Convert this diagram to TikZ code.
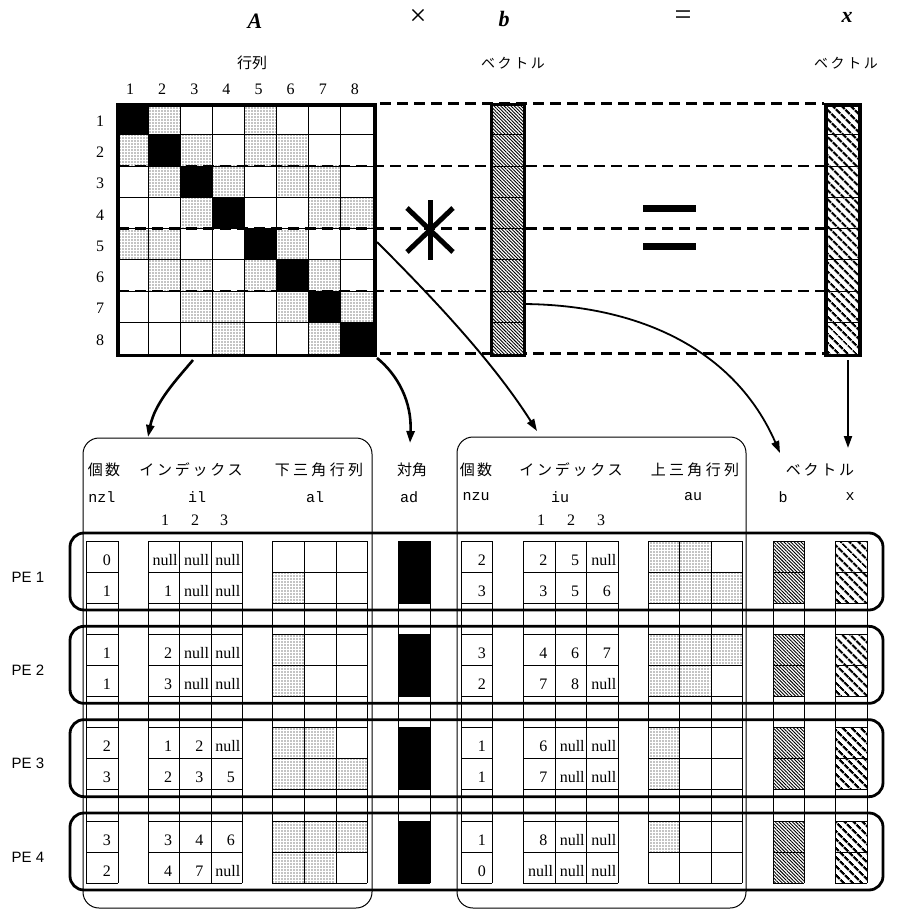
\documentclass[tikz,border=0pt]{standalone}
\usepackage{fontspec}
\setmainfont{Liberation Serif}
\newfontfamily\jpf{Noto Sans CJK JP}
\newfontfamily\monof{Liberation Mono}
\newfontfamily\helf{Liberation Sans}
\usetikzlibrary{patterns.meta,arrows.meta}
\tikzset{
  gridline/.style={line width=0.9pt},
  dotfill/.style={pattern={Dots[distance=3pt,radius=0.6pt]}},
  bhatch/.style={pattern={Lines[angle=-45,distance=2.4pt,line width=0.9pt]}},
  xhatch/.style={pattern={Lines[angle=-45,distance=6.5pt,line width=2.5pt]}},
  dashline/.style={line width=2.2pt,dash pattern=on 11pt off 6pt},
  numtxt/.style={inner sep=0pt,anchor=base east,font=\fontsize{16}{18}\selectfont},
  lbl/.style={inner sep=0pt,font=\fontsize{16}{18}\selectfont},
  jp/.style={inner sep=0pt,font=\jpf\fontsize{15}{17}\selectfont},
  mono/.style={inner sep=0pt,font=\monof\fontsize{15}{17}\selectfont},
  big/.style={inner sep=0pt,font=\bfseries\itshape\fontsize{22}{24}\selectfont},
  opsym/.style={inner sep=0pt,font=\fontsize{30}{32}\selectfont},
  pelbl/.style={inner sep=0pt,font=\helf\fontsize{15}{17}\selectfont},
  pebox/.style={line width=2.8pt,rounded corners=14pt},
  grpbox/.style={line width=1pt,rounded corners=16pt},
  tip/.style={-{Triangle[length=12pt,width=8pt]}},
}
\begin{document}
\begin{tikzpicture}[x=1pt,y=-1pt]
\useasboundingbox (0,0) rectangle (896,912);
\def\mx{116}\def\my{103.5}\def\cw{32.125}\def\ch{31.25}
% ---------- top labels
\node[big] (tA) at (255,21) {A};
\node[opsym] (tmul) at (418,17) {×};
\node[big] (tb) at (504,19) {b};
\node[opsym] (teq) at (683,18) {=};
\node[big] (tx) at (847,17) {x};
\node[jp] (tgyo) at (252,63) {行列};
\node[jp,font=\jpf\fontsize{14}{16}\selectfont\addfontfeatures{LetterSpace=18}] (tvb) at (513,63) {ベクトル};
\node[jp,font=\jpf\fontsize{14}{16}\selectfont\addfontfeatures{LetterSpace=18}] (tvx) at (846,63) {ベクトル};
% ---------- matrix A
\foreach \r/\c in {1/2,1/5,2/1,2/3,2/5,2/6,3/2,3/4,3/6,3/7,4/3,4/7,4/8,5/1,5/2,5/6,6/2,6/3,6/5,6/7,7/3,7/4,7/6,7/8,8/4,8/7}
  \path[dotfill] ({\mx+(\c-1)*\cw},{\my+(\r-1)*\ch}) rectangle ++(\cw,\ch);
\foreach \i in {1,...,8}
  \fill ({\mx+(\i-1)*\cw},{\my+(\i-1)*\ch}) rectangle ++(\cw,\ch);
\foreach \i in {1,...,7}{
  \draw[gridline] ({\mx+\i*\cw},\my) -- ++(0,250);
  \draw[gridline] (\mx,{\my+\i*\ch}) -- ++(257,0);
}
\foreach \i in {1,...,8}{
  \node[lbl] (cn\i) at ({\mx+(\i-0.5)*\cw-2},89) {\i};
  \node[lbl] (rn\i) at (100,{\my+(\i-0.5)*\ch+2}) {\i};
}
\node[draw,line width=3.5pt,minimum width=257pt,minimum height=250pt,anchor=north west,inner sep=0pt] (matA) at (\mx,\my) {};
% ---------- dashed guide lines
\foreach \i in {1,2,3}{
  \coordinate (dl\i) at (118,{\my+\i*62.5});
  \coordinate (dr\i) at (824,{\my+\i*62.5});
  \draw[dashline] (dl\i) -- (dr\i);
}
\coordinate (dl0) at (380,\my); \coordinate (dr0) at (824,\my);
\coordinate (dl4) at (380,{\my+250}); \coordinate (dr4) at (824,{\my+250});
\draw[dashline] (dl0) -- (dr0);
\draw[dashline] (dl4) -- (dr4);
% ---------- vectors b and x
\path[fill=white] (490,\my) rectangle (523,{\my+250});
\path[bhatch] (490,\my) rectangle (523,{\my+250});
\foreach \i in {1,...,7} \draw[gridline] (490,{\my+\i*\ch}) -- (523,{\my+\i*\ch});
\node[draw,line width=3pt,minimum width=33pt,minimum height=250pt,anchor=north west,inner sep=0pt] (vecb) at (490,\my) {};
\path[fill=white] (824,\my) rectangle (858,{\my+250});
\path[xhatch] (824,\my) rectangle (858,{\my+250});
\foreach \i in {1,...,7} \draw[gridline] (824,{\my+\i*\ch}) -- (858,{\my+\i*\ch});
\node[draw,line width=3.8pt,minimum width=34pt,minimum height=250pt,anchor=north west,inner sep=0pt] (vecx) at (824,\my) {};
% ---------- asterisk and big equals
\coordinate (ast) at (430,230);
\draw[line width=5pt] (430,200) -- (430,260);
\draw[line width=5pt] (407,208) -- (453,252);
\draw[line width=5pt] (407,252) -- (453,208);
\fill (643,204.5) rectangle (696,211.5);
\fill (643,243) rectangle (696,250);
% ---------- arrows
\coordinate (a1s) at (193,360); \coordinate (a1e) at (148,437);
\draw[line width=2.6pt,tip] (a1s) .. controls (178,378) and (155,402) .. (a1e);
\coordinate (a2s) at (377,358); \coordinate (a2e) at (410,443);
\draw[line width=2.6pt,tip] (a2s) .. controls (398,375) and (412,402) .. (a2e);
\coordinate (a3s) at (377,242); \coordinate (a3e) at (537,431);
\draw[line width=1.9pt,tip] (a3s) .. controls (430,295) and (492,360) .. (a3e);
\coordinate (a4s) at (524,304); \coordinate (a4e) at (780,453);
\draw[line width=1.8pt,tip] (a4s) .. controls (640,305) and (735,350) .. (a4e);
\coordinate (a5s) at (848,360); \coordinate (a5e) at (848,448);
\draw[line width=2pt,tip] (a5s) -- (a5e);
% ---------- headers of bottom table
\node[jp,font=\jpf\fontsize{15}{17}\selectfont\addfontfeatures{LetterSpace=15}] (h1) at (104,470) {個数};
\node[jp,font=\jpf\fontsize{15}{17}\selectfont\addfontfeatures{LetterSpace=18}] (h2) at (191,470) {インデックス};
\node[jp,font=\jpf\fontsize{15}{17}\selectfont\addfontfeatures{LetterSpace=22}] (h3) at (319,470) {下三角行列};
\node[jp] (h4) at (412,470) {対角};
\node[jp,font=\jpf\fontsize{15}{17}\selectfont\addfontfeatures{LetterSpace=15}] (h5) at (476,470) {個数};
\node[jp,font=\jpf\fontsize{15}{17}\selectfont\addfontfeatures{LetterSpace=18}] (h6) at (571,470) {インデックス};
\node[jp,font=\jpf\fontsize{15}{17}\selectfont\addfontfeatures{LetterSpace=22}] (h7) at (695,470) {上三角行列};
\node[jp,font=\jpf\fontsize{15}{17}\selectfont\addfontfeatures{LetterSpace=18}] (h8) at (820,470) {ベクトル};
\node[mono] (m1) at (102,497) {nzl};
\node[mono] (m2) at (197,497) {il};
\node[mono] (m3) at (315,497) {al};
\node[mono] (m4) at (409,497) {ad};
\node[mono] (m5) at (476,497) {nzu};
\node[mono] (m6) at (560,497) {iu};
\node[mono] (m7) at (693,497) {au};
\node[mono] (m8) at (783,497) {b};
\node[mono] (m9) at (850,497) {x};
\foreach \i/\xa/\xb in {1/165/541,2/195/571,3/224/601}{
  \node[lbl] (li\i) at (\xa,520) {\i};
  \node[lbl] (ui\i) at (\xb,520) {\i};
}
% ---------- bottom table: fills
\foreach \k/\r/\c in {0/1/1,1/0/1,1/1/1,2/0/1,2/0/2,2/1/1,2/1/2,2/1/3,3/0/1,3/0/2,3/0/3,3/1/1,3/1/2}{
  \pgfmathsetmacro\t{541+93.33*\k+31*\r}
  \pgfmathsetmacro\xl{272+31.67*(\c-1)}
  \path[dotfill] (\xl,\t) rectangle ++(31.67,31);
}
\foreach \k/\r/\c in {0/0/1,0/0/2,0/1/1,0/1/2,0/1/3,1/0/1,1/0/2,1/0/3,1/1/1,1/1/2,2/0/1,2/1/1,3/0/1}{
  \pgfmathsetmacro\t{541+93.33*\k+31*\r}
  \pgfmathsetmacro\xl{648+31.33*(\c-1)}
  \path[dotfill] (\xl,\t) rectangle ++(31.33,31);
}
\foreach \k in {0,1,2,3}{
  \pgfmathsetmacro\t{541+93.33*\k}
  \fill (398,\t) rectangle (430,\t+62);
  \path[bhatch] (773,\t) rectangle (804,\t+62);
  \path[xhatch] (835,\t) rectangle (867,\t+62);
}
% ---------- bottom table: grid lines
\foreach \xs in {86,118,148,179,211,242,272,304,336,367,398,430,461,492,523,555,586,618,648,679,711,742,773,804,835,867}
  \draw[gridline] (\xs,541) -- (\xs,883);
\foreach \k in {0,1,2,3}{
  \pgfmathsetmacro\t{541+93.33*\k}
  \foreach \dy in {0,31,62}{
    \foreach \xa/\xb in {86/118,148/242,272/367,398/430,461/492,523/618,648/742,773/804,835/867}
      \draw[gridline] (\xa,\t+\dy) -- (\xb,\t+\dy);
  }
}
% ---------- bottom table: numbers
\foreach \k/\r/\v in {0/0/0,0/1/1,1/0/1,1/1/1,2/0/2,2/1/3,3/0/3,3/1/2}{
  \pgfmathsetmacro\t{541+93.33*\k+31*\r+24}
  \node[numtxt] (nzl-\k-\r) at (111,\t) {\v};
}
\foreach \k/\r/\v in {0/0/2,0/1/3,1/0/3,1/1/2,2/0/1,2/1/1,3/0/1,3/1/0}{
  \pgfmathsetmacro\t{541+93.33*\k+31*\r+24}
  \node[numtxt] (nzu-\k-\r) at (486,\t) {\v};
}
\foreach \k/\r/\c/\v in {0/0/1/n,0/0/2/n,0/0/3/n,0/1/1/1,0/1/2/n,0/1/3/n,
  1/0/1/2,1/0/2/n,1/0/3/n,1/1/1/3,1/1/2/n,1/1/3/n,
  2/0/1/1,2/0/2/2,2/0/3/n,2/1/1/2,2/1/2/3,2/1/3/5,
  3/0/1/3,3/0/2/4,3/0/3/6,3/1/1/4,3/1/2/7,3/1/3/n}{
  \pgfmathsetmacro\t{541+93.33*\k+31*\r+24}
  \pgfmathsetmacro\xr{148+31.33*\c-7}
  \node[numtxt] (il-\k-\r-\c) at (\xr,\t) {\if n\v null\kern-5.5pt\else\v\fi};
}
\foreach \k/\r/\c/\v in {0/0/1/2,0/0/2/5,0/0/3/n,0/1/1/3,0/1/2/5,0/1/3/6,
  1/0/1/4,1/0/2/6,1/0/3/7,1/1/1/7,1/1/2/8,1/1/3/n,
  2/0/1/6,2/0/2/n,2/0/3/n,2/1/1/7,2/1/2/n,2/1/3/n,
  3/0/1/8,3/0/2/n,3/0/3/n,3/1/1/n,3/1/2/n,3/1/3/n}{
  \pgfmathsetmacro\t{541+93.33*\k+31*\r+24}
  \pgfmathsetmacro\xr{523+31.67*\c-7}
  \node[numtxt] (iu-\k-\r-\c) at (\xr,\t) {\if n\v null\kern-5.5pt\else\v\fi};
}
% ---------- group boxes
\draw[grpbox] (83,908) -- (83,438) -- (372,438) -- (372,908) -- cycle;
\draw[grpbox] (457,908) -- (457,437) -- (746,437) -- (746,908) -- cycle;
% ---------- PE boxes and labels
\foreach \k in {0,1,2,3}{
  \pgfmathsetmacro\t{541+93.33*\k}
  \draw[pebox] (70,\t-8) rectangle (883,\t+69);
  \pgfmathtruncatemacro\pn{\k+1}
  \node[pelbl] (pe\pn) at (28,\t+36) {PE \pn};
}
\end{tikzpicture}
\end{document}
